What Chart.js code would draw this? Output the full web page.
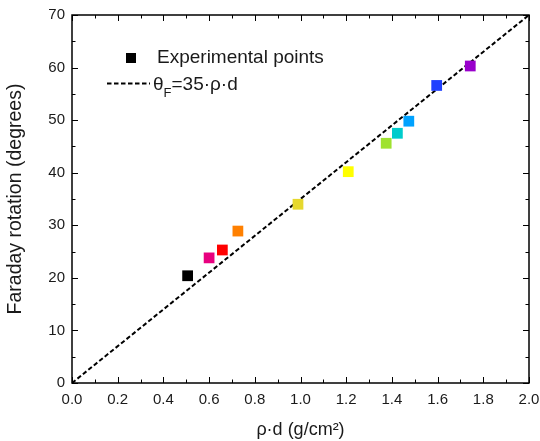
<!DOCTYPE html>
<html>
<head>
<meta charset="utf-8">
<script src="https://cdn.jsdelivr.net/npm/chart.js@4"></script>
<style>
html,body{margin:0;padding:0;background:#fff;}
#wrap{width:540px;height:441px;}
</style>
</head>
<body>
<div id="wrap"><canvas id="c" width="540" height="441"></canvas></div>
<script>
// ---- data ----
const rhoD = [0.506, 0.600, 0.658, 0.726, 0.989, 1.209, 1.375, 1.424, 1.474, 1.596, 1.743];
const rotation = [20.4, 23.8, 25.3, 28.9, 34.0, 40.2, 45.6, 47.5, 49.8, 56.6, 60.3];
const pointColors = ['#000000','#e8007f','#ff0000','#ff8000','#e6d82e','#ffff00','#9fe230','#00cccc','#00a2ff','#2040ff','#9900cc'];
const fitX = [0, 2];
const fitY = [0, 70];
const xTicks = [0,0.2,0.4,0.6,0.8,1.0,1.2,1.4,1.6,1.8,2.0];
const yTicks = [0,10,20,30,40,50,60,70];
const legendLabels = ['Experimental points', 'θ', 'F', '=35·ρ·d'];

const FONT = "'Liberation Sans', Arial, sans-serif";
const TXT = '#1a1a1a';

const framePlugin = {
  id: 'frame',
  afterDraw(chart) {
    const ctx = chart.ctx;
    const a = chart.chartArea;
    const xs = chart.scales.x, ys = chart.scales.y;
    ctx.save();
    ctx.strokeStyle = '#000';
    ctx.lineWidth = 1.5;
    ctx.strokeRect(a.left, a.top, a.right - a.left, a.bottom - a.top);
    ctx.lineWidth = 1;
    for (let i = 0; i <= 20; i++) {
      const v = i * 0.1;
      const px = Math.round(xs.getPixelForValue(v)) + 0.5;
      const len = (i % 2 === 0) ? 6 : 3.5;
      ctx.beginPath();
      ctx.moveTo(px, a.bottom); ctx.lineTo(px, a.bottom - len);
      ctx.moveTo(px, a.top); ctx.lineTo(px, a.top + len);
      ctx.stroke();
    }
    for (let i = 0; i <= 14; i++) {
      const v = i * 5;
      const py = Math.round(ys.getPixelForValue(v)) + 0.5;
      const len = (i % 2 === 0) ? 6 : 3.5;
      ctx.beginPath();
      ctx.moveTo(a.left, py); ctx.lineTo(a.left + len, py);
      ctx.moveTo(a.right, py); ctx.lineTo(a.right - len, py);
      ctx.stroke();
    }
    // legend
    ctx.fillStyle = '#000';
    ctx.fillRect(126, 53, 10, 10);
    ctx.fillStyle = TXT;
    ctx.font = '19px ' + FONT;
    ctx.textBaseline = 'alphabetic';
    ctx.textAlign = 'left';
    ctx.fillText(legendLabels[0], 157, 63);
    ctx.strokeStyle = '#000';
    ctx.lineWidth = 2;
    ctx.setLineDash([4.5, 2.5]);
    ctx.beginPath();
    ctx.moveTo(107, 83.5); ctx.lineTo(150, 83.5);
    ctx.stroke();
    ctx.setLineDash([]);
    let x = 153;
    ctx.font = '19px ' + FONT;
    ctx.fillText(legendLabels[1], x, 90);
    x += ctx.measureText(legendLabels[1]).width;
    ctx.font = '13px ' + FONT;
    ctx.fillText(legendLabels[2], x, 97);
    x += ctx.measureText(legendLabels[2]).width;
    ctx.font = '19px ' + FONT;
    ctx.fillText(legendLabels[3], x, 90);
    ctx.restore();
  }
};

new Chart(document.getElementById('c'), {
  type: 'scatter',
  data: {
    datasets: [
      {
        label: 'Experimental points',
        data: rhoD.map((v, i) => ({x: v, y: rotation[i]})),
        pointStyle: 'rect',
        pointRadius: 7.6,
        pointHoverRadius: 7.6,
        backgroundColor: pointColors,
        borderColor: pointColors,
        borderWidth: 0,
        order: 1
      },
      {
        label: 'θF=35·ρ·d',
        type: 'line',
        data: fitX.map((v, i) => ({x: v, y: fitY[i]})),
        borderColor: '#000',
        borderWidth: 2,
        borderDash: [4.5, 2.5],
        pointRadius: 0,
        fill: false,
        order: 2
      }
    ]
  },
  options: {
    responsive: false,
    animation: false,
    events: [],
    layout: { padding: { top: 15, right: 11, left: 0, bottom: 0 } },
    plugins: { legend: { display: false }, tooltip: { enabled: false } },
    scales: {
      x: {
        type: 'linear', min: 0, max: 2,
        afterBuildTicks: s => { s.ticks = xTicks.map(v => ({value: v})); },
        afterFit: s => { s.height = 58; s.paddingLeft = 0; s.paddingRight = 0; },
        grid: { display: false, drawTicks: false },
        border: { display: false },
        ticks: { padding: 8, color: TXT, font: { family: FONT, size: 15 }, callback: v => v.toFixed(1), maxRotation: 0, autoSkip: false },
        title: { display: true, text: 'ρ·d (g/cm²)', color: TXT, font: { family: FONT, size: 18 }, padding: { top: 0, bottom: 0 } }
      },
      y: {
        type: 'linear', min: 0, max: 70,
        afterBuildTicks: s => { s.ticks = yTicks.map(v => ({value: v})); },
        afterFit: s => { s.width = 72; s.paddingTop = 0; s.paddingBottom = 0; },
        grid: { display: false, drawTicks: false },
        border: { display: false },
        ticks: { padding: 7, color: TXT, font: { family: FONT, size: 15 }, autoSkip: false },
        title: { display: true, text: 'Faraday rotation (degrees)', color: TXT, font: { family: FONT, size: 19.5 }, padding: { top: 4, bottom: 0 } }
      }
    }
  },
  plugins: [framePlugin]
});
</script>
</body>
</html>
